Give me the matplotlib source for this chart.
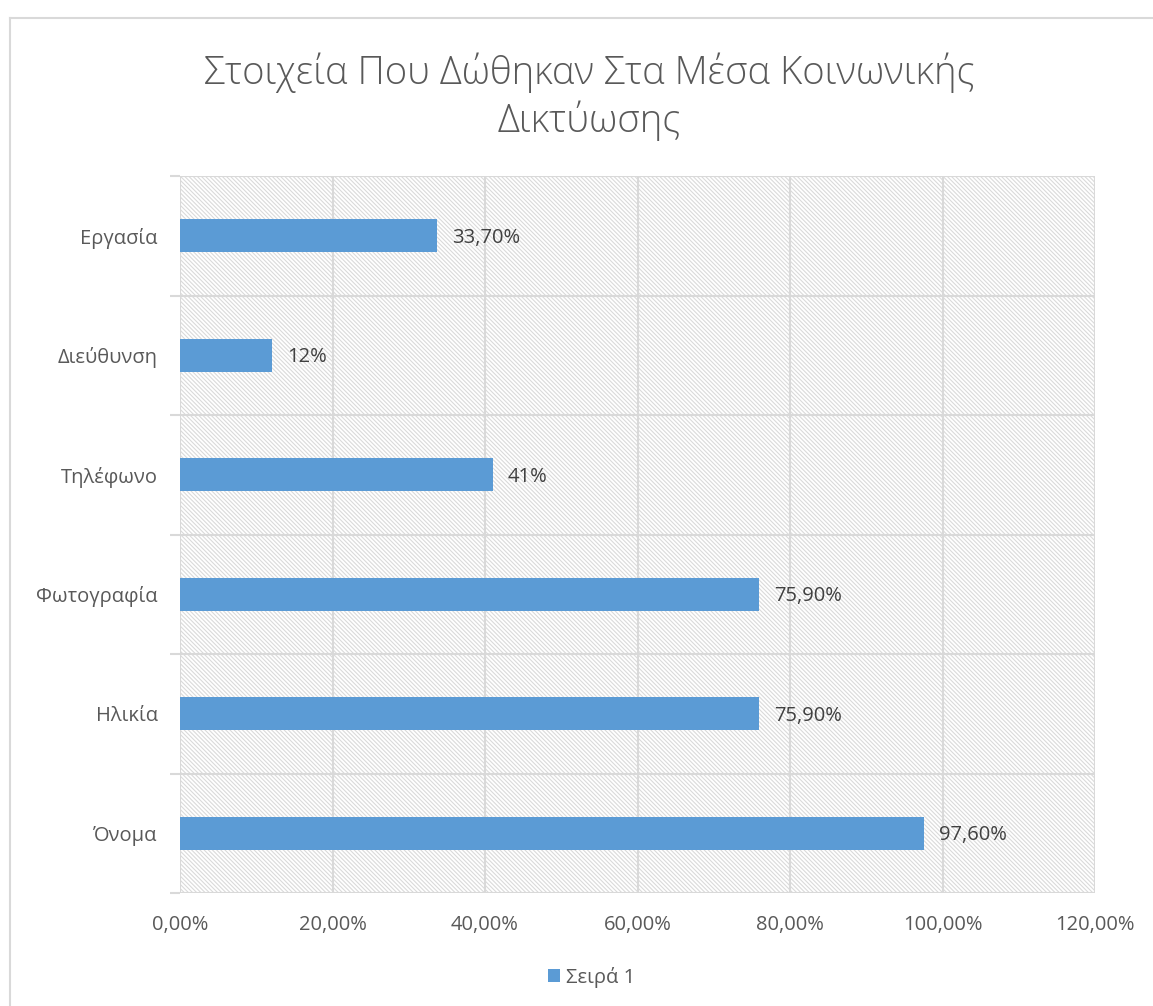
import matplotlib
matplotlib.use("Agg")
import matplotlib.pyplot as plt
from matplotlib.patches import Rectangle
from matplotlib.lines import Line2D
import matplotlib as mpl

plt.rcParams['font.family'] = ['Open Sans', 'DejaVu Sans']

# Data (bottom to top)
categories = ["Όνομα", "Ηλικία", "Φωτογραφία", "Τηλέφωνο", "Διεύθυνση", "Εργασία"]
values = [0.976, 0.759, 0.759, 0.41, 0.12, 0.337]
value_labels = ["97,60%", "75,90%", "75,90%", "41%", "12%", "33,70%"]
x_ticks = [0.0, 0.2, 0.4, 0.6, 0.8, 1.0, 1.2]
x_tick_labels = ["0,00%", "20,00%", "40,00%", "60,00%", "80,00%", "100,00%", "120,00%"]
series_name = "Σειρά 1"
title = "Στοιχεία Που Δώθηκαν Στα Μέσα Κοινωνικής\nΔικτύωσης"

bar_color = "#5b9bd5"
text_color = "#595959"
grid_color = "#d9d9d9"

W, H = 1153, 1006
fig = plt.figure(figsize=(W / 100, H / 100), dpi=100)
fig.patch.set_facecolor("white")

# light chart-area frame (left and top edges visible)
fig.add_artist(Line2D([10 / W, 10 / W], [0, 1 - 18 / H], transform=fig.transFigure,
                      color=grid_color, lw=1.5))
fig.add_artist(Line2D([10 / W, 1], [1 - 18 / H, 1 - 18 / H], transform=fig.transFigure,
                      color=grid_color, lw=1.5))

left, right = 180 / W, 1095 / W
bottom, top = 1 - 893 / H, 1 - 176 / H
ax = fig.add_axes([left, bottom, right - left, top - bottom])

n = len(categories)
ax.set_xlim(0, 1.2)
ax.set_ylim(-0.5, n - 0.5)

# hatched plot-area background
mpl.rcParams['hatch.color'] = "#dadada"
mpl.rcParams['hatch.linewidth'] = 0.8
bg = Rectangle((0, 0), 1, 1, transform=ax.transAxes, facecolor="white",
               edgecolor="#dadada", hatch="\\" * 8, linewidth=0, zorder=0)
ax.add_patch(bg)

# gridlines
for xt in x_ticks:
    ax.axvline(xt, color=grid_color, lw=1.5, zorder=1)
for i in range(n + 1):
    ax.axhline(i - 0.5, color=grid_color, lw=1.5, zorder=1)

y = list(range(n))
ax.barh(y, values, height=0.28, color=bar_color, zorder=3)

for yi, v, lab in zip(y, values, value_labels):
    ax.annotate(lab, xy=(v, yi), xytext=(11, -1.5), textcoords="offset points",
                ha="left", va="center", fontsize=14.5, color="#404040")

for s in ax.spines.values():
    s.set_visible(False)

ax.set_xticks(x_ticks)
ax.set_xticklabels(x_tick_labels, fontsize=14.5, color=text_color)
ax.tick_params(axis="x", length=0, pad=16)

ax.set_yticks([i - 0.5 for i in range(n + 1)], minor=False)
ax.set_yticklabels([])
ax.tick_params(axis="y", which="major", length=7, color=grid_color, width=1.5)
ax.set_yticks(y, minor=True)
ax.set_yticklabels(categories, minor=True, fontsize=14.5, color=text_color)
ax.tick_params(axis="y", which="minor", length=0, pad=16)

fig.text(0.511, 1 - 97 / H, title, ha="center", va="center", fontsize=27.5,
         color=text_color, fontweight="light", linespacing=1.25)

handle = Rectangle((0, 0), 1, 1, facecolor=bar_color)
fig.legend([handle], [series_name], loc="center", bbox_to_anchor=(0.513, 1 - 977 / H),
           frameon=False, fontsize=14.5, handlelength=0.6, handleheight=0.6,
           handletextpad=0.3, labelcolor=text_color)

fig.savefig("out.png", dpi=100)
